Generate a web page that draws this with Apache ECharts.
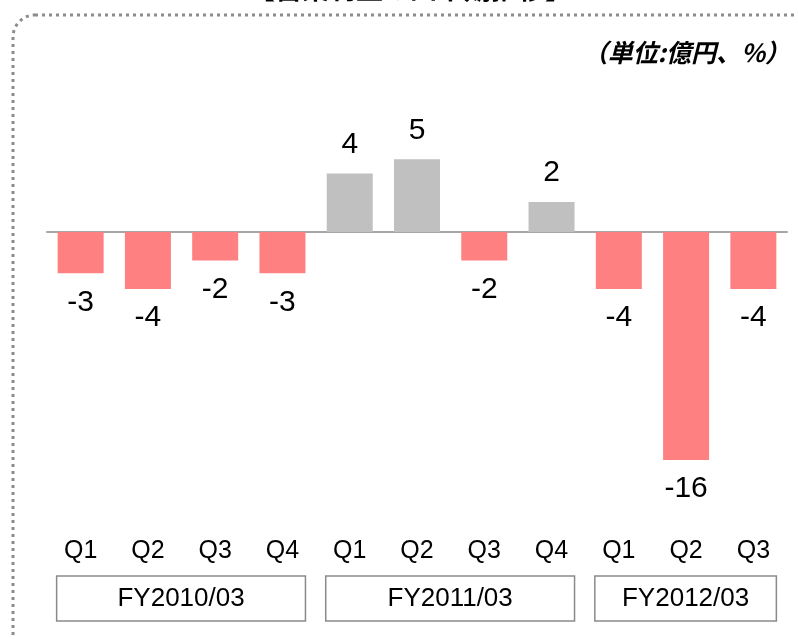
<!DOCTYPE html>
<html>
<head>
<meta charset="utf-8">
<script src="https://cdn.jsdelivr.net/npm/echarts@6/dist/echarts.min.js"></script>
<style>
html, body { margin: 0; padding: 0; background: #fff; }
#main { width: 798px; height: 639px; }
</style>
</head>
<body>
<div id="main"></div>
<script>
// quarterly operating profit (100M yen)
var quarters = ['Q1', 'Q2', 'Q3', 'Q4', 'Q1', 'Q2', 'Q3', 'Q4', 'Q1', 'Q2', 'Q3'];
var profit = [-2.9, -4.0, -2.0, -2.9, 4.1, 5.1, -2.0, 2.1, -4.0, -16.0, -4.0];
var fiscalYears = ['FY2010/03', 'FY2011/03', 'FY2012/03'];
var quartersPerYear = [4, 4, 3];

var latin = '"Liberation Sans", Arial, sans-serif';
var cjk = '"Noto Sans CJK JP", sans-serif';

var myChart = echarts.init(document.getElementById('main'));

var barData = profit.map(function (v) {
    return {
        value: v,
        itemStyle: { color: v >= 0 ? '#c0c0c0' : '#ff8080' },
        label: { position: v >= 0 ? 'top' : 'bottom' }
    };
});

option = {
    animation: false,
    grid: { left: 47, right: 11, top: 118, height: 349 },
    xAxis: [
        {
            type: 'category',
            data: quarters,
            axisLine: { onZero: true, lineStyle: { color: '#a6a6a6', width: 2 } },
            axisTick: { show: false },
            axisLabel: { show: false }
        },
        {
            type: 'category',
            data: quarters,
            position: 'bottom',
            axisLine: { show: false, onZero: false },
            axisTick: { show: false },
            axisLabel: { margin: 72, fontSize: 25, color: '#000', fontFamily: latin }
        }
    ],
    yAxis: {
        type: 'value',
        min: -16.5,
        max: 8,
        show: false,
        splitLine: { show: false }
    },
    series: [
        {
            type: 'bar',
            xAxisIndex: 0,
            data: barData,
            barWidth: 46,
            label: {
                show: true,
                fontSize: 30,
                color: '#000',
                fontFamily: latin,
                distance: 14,
                formatter: function (p) { return Math.round(p.value); }
            }
        }
    ]
};

myChart.setOption(option, true);

// frame, title, unit note and fiscal year boxes (boxes placed from the category scale)
var graphics = [
    {
        type: 'rect',
        shape: { x: 13, y: 15, width: 820, height: 660, r: 22 },
        style: { fill: 'none', stroke: '#8c8c8c', lineWidth: 3, lineDash: [3, 4] },
        silent: true
    },
    {
        type: 'text',
        x: 410, y: 2,
        style: {
            text: '【営業利益の四半期推移】',
            font: 'bold 27px ' + cjk,
            fill: '#000',
            align: 'center',
            verticalAlign: 'bottom'
        }
    },
    {
        type: 'text',
        x: 790, y: 52,
        style: {
            text: '（単位:億円、%）',
            font: 'italic bold 25px ' + cjk,
            fill: '#000',
            align: 'right',
            verticalAlign: 'middle'
        }
    }
];

var start = 0;
fiscalYears.forEach(function (fy, i) {
    var end = start + quartersPerYear[i] - 1;
    var x0 = myChart.convertToPixel({ xAxisIndex: 0 }, start) - 24;
    var x1 = myChart.convertToPixel({ xAxisIndex: 0 }, end) + 23;
    graphics.push({
        type: 'rect',
        shape: { x: x0, y: 576, width: x1 - x0, height: 45 },
        style: { fill: '#fff', stroke: '#8a8a8a', lineWidth: 1.5 }
    });
    graphics.push({
        type: 'text',
        x: (x0 + x1) / 2, y: 599,
        style: {
            text: fy,
            font: '26px ' + latin,
            fill: '#000',
            align: 'center',
            verticalAlign: 'middle'
        }
    });
    start = end + 1;
});

myChart.setOption({ graphic: graphics });
</script>
</body>
</html>
